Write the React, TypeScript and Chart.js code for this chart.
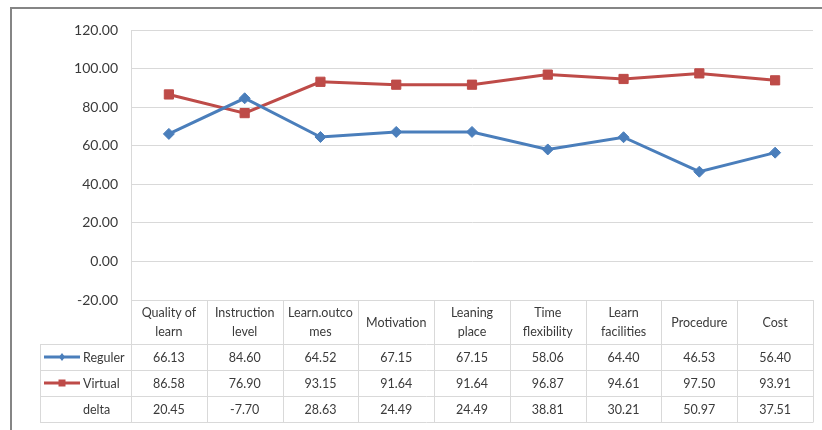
import React, { useEffect, useRef } from "react";
import { Chart, registerables } from "chart.js";

Chart.register(...registerables);

const categories: string[][] = [
  ["Quality of", "learn"],
  ["Instruction", "level"],
  ["Learn.outco", "mes"],
  ["Motivation"],
  ["Leaning", "place"],
  ["Time", "flexibility"],
  ["Learn", "facilities"],
  ["Procedure"],
  ["Cost"],
];
const reguler = [66.13, 84.6, 64.52, 67.15, 67.15, 58.06, 64.4, 46.53, 56.4];
const virtual = [86.58, 76.9, 93.15, 91.64, 91.64, 96.87, 94.61, 97.5, 93.91];
const delta = [20.45, -7.7, 28.63, 24.49, 24.49, 38.81, 30.21, 50.97, 37.51];
const yTicks = { min: -20, max: 120, step: 20 };

const BLUE = "#4A7EBB";
const RED = "#BE4B48";
const GRID = "#d9d9d9";
const TEXT = "#3a3a3a";
const FONT = "Lato";

const tablePlugin = {
  id: "dataTable",
  afterDraw(chart: any) {
    const ctx = chart.ctx as CanvasRenderingContext2D;
    const xs = chart.scales.x;
    const area = chart.chartArea;
    const n = categories.length;
    const c0 = xs.getPixelForValue(0);
    const c1 = xs.getPixelForValue(1);
    const step = c1 - c0;
    const left = area.left;
    const right = area.right;
    const top = area.bottom;
    const headerBottom = top + 44;
    const rowH = 26;
    const legendLeft = 40;
    const tableBottom = headerBottom + rowH * 3;

    ctx.save();
    // outer frame
    ctx.strokeStyle = "#858585";
    ctx.lineWidth = 2;
    ctx.beginPath();
    ctx.moveTo(11, 430);
    ctx.lineTo(11, 8);
    ctx.lineTo(822, 8);
    ctx.stroke();

    // table grid
    ctx.strokeStyle = GRID;
    ctx.lineWidth = 1;
    ctx.beginPath();
    const a = (v: number) => Math.round(v) + 0.5;
    for (let r = 0; r <= 3; r++) {
      const y = a(headerBottom + r * rowH);
      ctx.moveTo(legendLeft, y);
      ctx.lineTo(right, y);
    }
    ctx.moveTo(a(legendLeft), a(headerBottom));
    ctx.lineTo(a(legendLeft), a(tableBottom));
    for (let i = 0; i <= n; i++) {
      const x = a(left + i * step);
      ctx.moveTo(x, top);
      ctx.lineTo(x, a(tableBottom));
    }
    ctx.stroke();

    // header text
    ctx.fillStyle = TEXT;
    ctx.font = `12.5px ${FONT}`;
    ctx.textAlign = "center";
    ctx.textBaseline = "middle";
    const hMid = (top + headerBottom) / 2;
    categories.forEach((lines, i) => {
      const cx = xs.getPixelForValue(i);
      if (lines.length === 1) {
        ctx.fillText(lines[0], cx, hMid + 1);
      } else {
        ctx.fillText(lines[0], cx, hMid - 9);
        ctx.fillText(lines[1], cx, hMid + 10);
      }
    });

    const rows = [
      { name: "Reguler", vals: reguler, color: BLUE, marker: "diamond" },
      { name: "Virtual", vals: virtual, color: RED, marker: "square" },
      { name: "delta", vals: delta, color: null, marker: null },
    ];
    rows.forEach((row, r) => {
      const cy = headerBottom + r * rowH + rowH / 2 + 1;
      ctx.fillStyle = TEXT;
      ctx.textAlign = "center";
      row.vals.forEach((v, i) => {
        ctx.fillText(v.toFixed(2), xs.getPixelForValue(i), cy);
      });
      ctx.textAlign = "left";
      ctx.fillText(row.name, 83, cy);
      if (row.color) {
        const ly = cy - 1;
        ctx.strokeStyle = row.color;
        ctx.lineWidth = 3;
        ctx.beginPath();
        ctx.moveTo(44, ly);
        ctx.lineTo(80, ly);
        ctx.stroke();
        ctx.fillStyle = row.color;
        ctx.beginPath();
        if (row.marker === "diamond") {
          ctx.moveTo(62, ly - 4);
          ctx.lineTo(65, ly);
          ctx.lineTo(62, ly + 4);
          ctx.lineTo(59, ly);
          ctx.closePath();
        } else {
          ctx.rect(58.5, ly - 3.5, 7, 7);
        }
        ctx.fill();
      }
    });
    ctx.restore();
  },
};

export default function App() {
  const ref = useRef<HTMLCanvasElement | null>(null);
  useEffect(() => {
    if (!ref.current) return;
    const chart = new Chart(ref.current, {
      type: "line",
      data: {
        labels: categories.map((c) => c.join(" ")),
        datasets: [
          {
            label: "Reguler",
            data: reguler,
            borderColor: BLUE,
            backgroundColor: BLUE,
            borderWidth: 3,
            pointStyle: "rectRot",
            pointRadius: 5.5,
            pointBorderWidth: 1,
            tension: 0,
          },
          {
            label: "Virtual",
            data: virtual,
            borderColor: RED,
            backgroundColor: RED,
            borderWidth: 3,
            pointStyle: "rect",
            pointRadius: 6.5,
            pointBorderWidth: 1,
            tension: 0,
          },
        ],
      },
      options: {
        responsive: false,
        animation: false,
        layout: { padding: { top: 30, bottom: 130, right: 9, left: 0 } },
        plugins: { legend: { display: false }, tooltip: { enabled: false } },
        scales: {
          x: { display: false, offset: true },
          y: {
            min: yTicks.min,
            max: yTicks.max,
            afterFit: (s: any) => {
              s.width = 131;
            },
            ticks: {
              stepSize: yTicks.step,
              padding: 13,
              color: TEXT,
              font: { family: FONT, size: 14 },
              callback: (v: any) => Number(v).toFixed(2),
            },
            grid: { color: GRID, drawTicks: false },
            border: { color: GRID },
          },
        },
      },
      plugins: [tablePlugin],
    });
    return () => chart.destroy();
  }, []);
  return (
    <canvas
      ref={ref}
      width={822}
      height={430}
      style={{ position: "fixed", left: 0, top: 0, display: "block", background: "#fff" }}
    />
  );
}
